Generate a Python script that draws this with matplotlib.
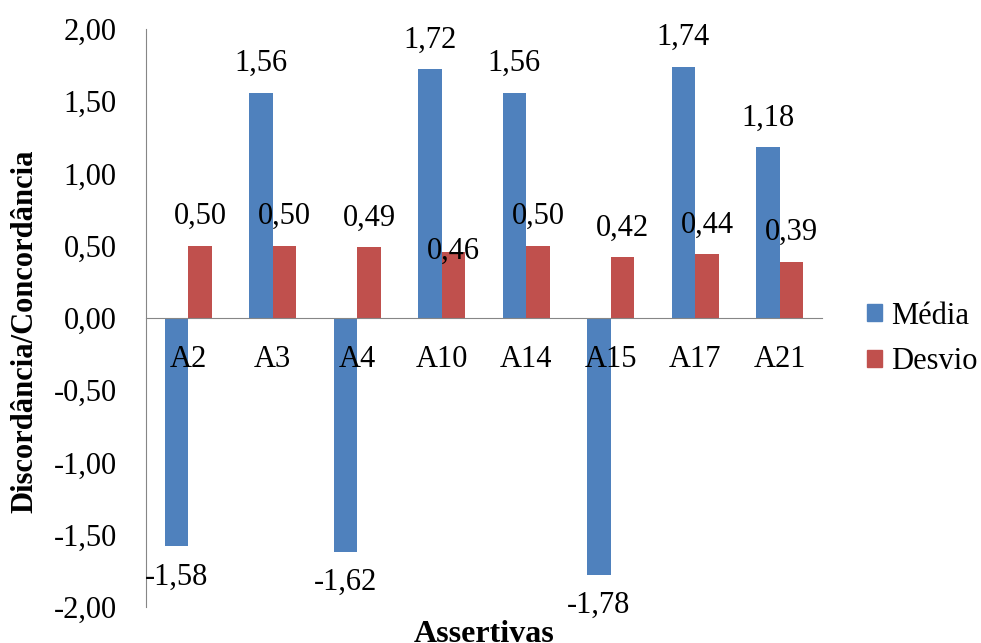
import matplotlib
matplotlib.use("Agg")
import matplotlib.pyplot as plt
from matplotlib.patches import Patch
import numpy as np

categories = ["A2", "A3", "A4", "A10", "A14", "A15", "A17", "A21"]
media = [-1.58, 1.56, -1.62, 1.72, 1.56, -1.78, 1.74, 1.18]
desvio = [0.50, 0.50, 0.49, 0.46, 0.50, 0.42, 0.44, 0.39]
yticks = [-2.0, -1.5, -1.0, -0.5, 0.0, 0.5, 1.0, 1.5, 2.0]

plt.rcParams['font.family'] = ['Liberation Serif', 'DejaVu Serif']
FS = 22
BLUE = "#4F81BD"
RED = "#C0504D"
GRAY = "#868686"

fig = plt.figure(figsize=(9.81, 6.43), dpi=100)
ax = fig.add_axes([0.1488, 0.056, 0.6891, 0.8989])

x = np.arange(len(categories))
w = 0.28
ax.bar(x - w / 2, media, w, color=BLUE, label="Média")
ax.bar(x + w / 2, desvio, w, color=RED, label="Desvio")

ax.set_xlim(-0.5, len(categories) - 0.5)
ax.set_ylim(-2, 2)
ax.set_yticks(yticks)
ax.set_yticklabels([f"{v:.2f}".replace(".", ",") for v in yticks], fontsize=FS)
ax.tick_params(axis='y', length=0, pad=21)
ax.set_xticks([])

for s in ['top', 'right']:
    ax.spines[s].set_visible(False)
ax.spines['left'].set_color(GRAY)
ax.spines['bottom'].set_color(GRAY)
ax.spines['bottom'].set_position(('data', 0))

def fmt(v):
    return f"{v:.2f}".replace(".", ",")

for xi, v in zip(x, media):
    off = 21 if v >= 0 else -22
    ax.annotate(fmt(v), (xi - w / 2, v), xytext=(0, off), textcoords='offset points',
                ha='center', va='center', fontsize=FS)

for i, (xi, v) in enumerate(zip(x, desvio)):
    off = 0 if categories[i] == "A10" else 21
    ax.annotate(fmt(v), (xi + w / 2, v), xytext=(0, off), textcoords='offset points',
                ha='center', va='center', fontsize=FS)

for xi, c in zip(x, categories):
    ax.annotate(c, (xi, 0), xytext=(0, -35), textcoords='offset points',
                ha='center', va='baseline', fontsize=FS)

fig.text(25 / 981, 1 - 331 / 643, "Discordância/Concordância", rotation=90,
         ha='center', va='center', fontsize=FS, fontweight='bold')
fig.text(484 / 981, 1.5 / 643, "Assertivas", ha='center', va='baseline',
         fontsize=23, fontweight='bold')

handles = [Patch(color=BLUE, label="Média"), Patch(color=RED, label="Desvio")]
fig.legend(handles=handles, loc='center left', bbox_to_anchor=(867 / 981, 1 - 339 / 643),
           frameon=False, fontsize=FS, handlelength=0.5, handleheight=0.5,
           handletextpad=0.28, labelspacing=0.55, borderpad=0, borderaxespad=0)

fig.savefig("out.png", dpi=100)
